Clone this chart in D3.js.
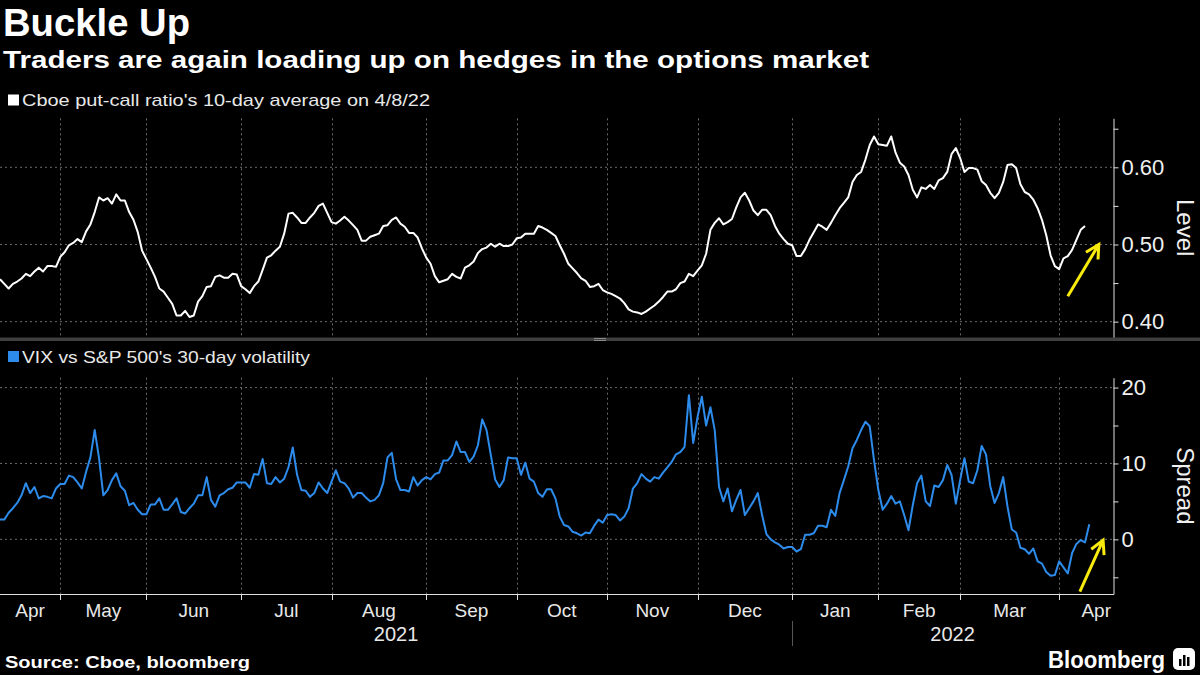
<!DOCTYPE html>
<html><head><meta charset="utf-8">
<script src="https://cdn.jsdelivr.net/npm/d3@7"></script>
<style>
html,body{margin:0;padding:0;background:#000;}
svg{display:block;}
text{font-family:"Liberation Sans",Arial,sans-serif;}
</style></head><body>
<svg id="chart" width="1200" height="675"></svg>
<script>
// ---- data (index = trading day, Apr 2021 .. Apr 8 2022) ----
const putCallRatio = [
0.455,0.449,0.443,0.449,0.452,0.456,0.462,0.459,0.465,0.470,
0.465,0.472,0.472,0.471,0.484,0.490,0.499,0.502,0.507,0.503,
0.517,0.526,0.542,0.561,0.557,0.560,0.553,0.565,0.557,0.557,
0.542,0.532,0.516,0.492,0.481,0.470,0.458,0.443,0.439,0.431,
0.423,0.408,0.408,0.414,0.406,0.408,0.426,0.433,0.445,0.446,
0.458,0.460,0.457,0.457,0.462,0.461,0.446,0.442,0.437,0.446,
0.452,0.467,0.483,0.486,0.492,0.497,0.514,0.540,0.541,0.535,
0.528,0.528,0.535,0.541,0.550,0.553,0.541,0.529,0.527,0.531,
0.536,0.531,0.525,0.519,0.505,0.505,0.510,0.512,0.514,0.524,
0.525,0.532,0.535,0.527,0.523,0.515,0.515,0.509,0.495,0.483,
0.475,0.459,0.451,0.453,0.455,0.462,0.458,0.456,0.470,0.473,
0.478,0.489,0.494,0.496,0.501,0.497,0.501,0.498,0.498,0.500,
0.508,0.509,0.514,0.514,0.514,0.524,0.522,0.519,0.515,0.511,
0.499,0.488,0.475,0.469,0.463,0.456,0.453,0.445,0.446,0.449,
0.441,0.438,0.436,0.433,0.430,0.424,0.416,0.413,0.412,0.410,
0.413,0.417,0.421,0.426,0.432,0.439,0.439,0.442,0.450,0.452,
0.462,0.459,0.466,0.473,0.488,0.519,0.528,0.534,0.526,0.529,
0.533,0.548,0.561,0.567,0.557,0.544,0.538,0.545,0.545,0.538,
0.524,0.514,0.507,0.501,0.499,0.485,0.485,0.494,0.506,0.516,
0.526,0.523,0.519,0.528,0.538,0.547,0.554,0.561,0.581,0.590,
0.594,0.610,0.629,0.640,0.630,0.629,0.628,0.640,0.619,0.606,
0.601,0.590,0.571,0.561,0.574,0.572,0.577,0.572,0.583,0.586,
0.594,0.617,0.625,0.612,0.594,0.599,0.599,0.597,0.582,0.577,
0.567,0.560,0.567,0.581,0.603,0.604,0.599,0.578,0.568,0.565,
0.558,0.547,0.532,0.512,0.486,0.472,0.468,0.482,0.485,0.493,
0.506,0.519,0.524];

const vixSpread = [
2.6,2.6,3.5,4.1,4.8,5.8,7.4,6.1,6.9,5.4,
5.7,5.6,5.4,6.7,7.3,7.3,8.4,8.2,7.5,6.7,
8.9,10.8,14.4,10.7,5.8,6.5,7.8,8.7,7.0,6.4,
4.5,4.8,3.9,3.3,3.3,4.6,4.6,5.4,3.9,3.9,
4.6,5.4,3.6,3.4,4.1,4.7,5.8,5.8,8.2,5.2,
4.3,5.8,6.1,6.6,6.8,7.5,7.5,7.5,6.8,8.6,
8.5,10.6,7.4,7.3,8.2,7.5,8.0,9.5,12.1,8.5,
6.5,6.4,5.6,6.1,7.5,6.7,6.1,7.6,9.1,7.6,
7.4,6.7,5.5,6.1,6.1,5.5,5.0,5.2,5.8,7.4,
10.8,11.4,7.9,6.5,6.5,6.3,8.2,7.1,7.8,8.2,
7.9,8.6,8.8,10.4,10.4,11.1,12.9,11.5,11.5,10.2,
10.9,12.4,15.8,14.4,11.1,7.9,6.9,7.8,10.8,10.7,
10.7,8.5,10.1,8.0,7.6,6.1,5.6,6.6,6.6,5.4,
3.0,1.9,1.7,1.0,0.8,0.5,0.9,0.8,1.8,2.6,
2.2,3.2,3.3,3.2,2.5,3.0,4.1,6.7,7.4,8.6,
8.0,7.6,8.2,8.0,8.8,9.5,10.2,11.2,11.5,12.2,
19.0,12.7,16.1,18.8,15.0,17.4,14.4,6.9,5.0,6.7,
3.7,5.2,6.5,3.2,4.1,5.0,6.1,3.2,0.7,0.0,
-0.4,-0.7,-1.2,-1.0,-1.0,-1.6,-1.3,0.6,0.6,0.8,
1.8,1.8,1.6,3.9,3.1,6.1,7.8,9.6,12.0,13.1,
14.4,15.5,14.9,10.4,6.5,3.9,4.7,5.7,4.7,5.0,
3.2,1.2,4.5,7.4,8.4,5.0,4.4,7.1,6.9,7.8,
9.8,8.5,4.7,7.8,10.7,7.6,7.4,9.1,12.3,11.2,
7.0,4.8,6.1,8.2,4.3,1.3,0.9,-1.1,-1.3,-1.9,
-1.2,-2.9,-3.2,-4.3,-4.8,-4.7,-2.9,-3.7,-4.5,-1.8,
-0.6,-0.1,-0.4,2.0];

const monthStarts = [14,34,56,77,99,120,141,162,184,204,223,246];
const monthLabels = ["Apr","May","Jun","Jul","Aug","Sep","Oct","Nov","Dec","Jan","Feb","Mar","Apr"];
const yearLabels = ["2021","2022"];
const yearBreak = 184;
const pcrTicks = [0.40,0.45,0.50,0.55,0.60,0.65];
const spreadTicks = [-5,0,5,10,15,20];
const topArrow = [[248.0,0.433],[255.2,0.500]];
const bottomArrow = [[250.8,-6.9],[256.2,-0.1]];

const title = "Buckle Up";
const subtitle = "Traders are again loading up on hedges in the options market";
const legendTop = "Cboe put-call ratio's 10-day average on 4/8/22";
const legendBottom = "VIX vs S&P 500's 30-day volatility";
const source = "Source: Cboe, bloomberg";

// ---- layout ----
const W = 1200, H = 675;
const plotRight = 1113;
const topPanel = {y0:118.3, y1:337.1};
const botPanel = {y0:377.7, y1:594};
const white = "#ffffff", blue = "#2d8ceb", yellow = "#f7ea0c", grid = "#6a6a6a";

const svg = d3.select("#chart");
svg.append("rect").attr("width",W).attr("height",H).attr("fill","#000");

const x = d3.scaleLinear().domain([0,258.5]).range([0,plotRight]);
const yTop = d3.scaleLinear().domain([0.38,0.6635]).range([topPanel.y1, topPanel.y0]);
const yBot = d3.scaleLinear().domain([-7.2,21.3]).range([botPanel.y1, botPanel.y0]);

// titles
svg.append("text").attr("x",3).attr("y",36).attr("fill",white)
  .attr("font-size",38).attr("font-weight","bold")
  .attr("textLength",187).attr("lengthAdjust","spacingAndGlyphs").text(title);
svg.append("text").attr("x",3).attr("y",68).attr("fill",white)
  .attr("font-size",24).attr("font-weight","bold")
  .attr("textLength",866).attr("lengthAdjust","spacingAndGlyphs").text(subtitle);

// legends
svg.append("rect").attr("x",8).attr("y",94.5).attr("width",11).attr("height",11).attr("fill",white);
svg.append("text").attr("x",22).attr("y",106).attr("fill","#e8e8e8")
  .attr("font-size",17).attr("textLength",408).attr("lengthAdjust","spacingAndGlyphs").text(legendTop);
svg.append("rect").attr("x",8).attr("y",351).attr("width",11).attr("height",11).attr("fill",blue);
svg.append("text").attr("x",22).attr("y",363).attr("fill","#e8e8e8")
  .attr("font-size",17).attr("textLength",288).attr("lengthAdjust","spacingAndGlyphs").text(legendBottom);

// gridlines
function gridFor(yScale, ticks, panel){
  const g = svg.append("g");
  g.selectAll("line.h").data(ticks).join("line")
    .attr("x1",0).attr("x2",plotRight)
    .attr("y1",d=>yScale(d)).attr("y2",d=>yScale(d))
    .attr("stroke",grid).attr("stroke-width",1).attr("stroke-dasharray","2,3");
  g.selectAll("line.v").data(monthStarts).join("line")
    .attr("x1",d=>Math.round(x(d))+0.5).attr("x2",d=>Math.round(x(d))+0.5)
    .attr("y1",panel.y0).attr("y2",panel.y1)
    .attr("stroke",grid).attr("stroke-width",1).attr("stroke-dasharray","2,3");
}
gridFor(yTop, pcrTicks.filter((d,i)=>i%2===0), topPanel);
gridFor(yBot, spreadTicks.filter((d,i)=>i%2===1), botPanel);

// separator between panels
svg.append("rect").attr("x",0).attr("y",337.5).attr("width",W).attr("height",3.5).attr("fill","#3f3f3f");
svg.append("line").attr("x1",594).attr("x2",606).attr("y1",338.5).attr("y2",338.5).attr("stroke","#8a8a8a");
svg.append("line").attr("x1",594).attr("x2",606).attr("y1",340.5).attr("y2",340.5).attr("stroke","#8a8a8a");

// lines
const lineTop = d3.line().x((d,i)=>x(i)).y(d=>yTop(d));
const lineBot = d3.line().x((d,i)=>x(i)).y(d=>yBot(d));
svg.append("path").datum(putCallRatio).attr("d",lineTop)
  .attr("fill","none").attr("stroke",white).attr("stroke-width",2).attr("stroke-linejoin","round");
svg.append("path").datum(vixSpread).attr("d",lineBot)
  .attr("fill","none").attr("stroke",blue).attr("stroke-width",2).attr("stroke-linejoin","round");

// right axes
function styleAxis(g){
  g.selectAll(".domain").attr("stroke","#e0e0e0");
  g.selectAll(".tick line").attr("stroke","#e0e0e0");
  g.selectAll(".tick text").attr("fill","#f0f0f0").attr("font-size",22)
    .attr("font-family",'"Liberation Sans",Arial,sans-serif');
}
const axTop = svg.append("g").attr("transform",`translate(${plotRight+0.5},0)`)
  .call(d3.axisRight(yTop).tickValues(pcrTicks).tickSize(5).tickSizeOuter(0).tickPadding(3)
    .tickFormat(d=>Math.round(d*100)%10===0 ? d3.format(".2f")(d) : ""));
styleAxis(axTop);
const axBot = svg.append("g").attr("transform",`translate(${plotRight+0.5},0)`)
  .call(d3.axisRight(yBot).tickValues(spreadTicks).tickSize(5).tickSizeOuter(0).tickPadding(3)
    .tickFormat(d=>d%10===0 ? d3.format("d")(d) : ""));
styleAxis(axBot);

// axis titles
svg.append("text").attr("transform",`translate(1177,${(topPanel.y0+topPanel.y1)/2}) rotate(90)`)
  .attr("text-anchor","middle").attr("fill","#f0f0f0").attr("font-size",24).text("Level");
svg.append("text").attr("transform",`translate(1177,${(botPanel.y0+botPanel.y1)/2}) rotate(90)`)
  .attr("text-anchor","middle").attr("fill","#f0f0f0").attr("font-size",24).text("Spread");

// x axis
const xAxisG = svg.append("g");
xAxisG.append("line").attr("x1",0).attr("x2",plotRight+1).attr("y1",botPanel.y1+0.5).attr("y2",botPanel.y1+0.5)
  .attr("stroke","#e0e0e0");
xAxisG.selectAll("line.tk").data(monthStarts).join("line")
  .attr("x1",d=>Math.round(x(d))+0.5).attr("x2",d=>Math.round(x(d))+0.5)
  .attr("y1",botPanel.y1).attr("y2",botPanel.y1+6).attr("stroke","#e0e0e0");
const bounds = [0, ...monthStarts, x.domain()[1]];
xAxisG.selectAll("text.m").data(monthLabels).join("text")
  .attr("x",(d,i)=> i===monthLabels.length-1 ? plotRight-2 : x((bounds[i]+bounds[i+1])/2))
  .attr("text-anchor",(d,i)=> i===monthLabels.length-1 ? "end" : "middle")
  .attr("y",617).attr("fill","#e8e8e8").attr("font-size",19).text(d=>d);
// years
const yearCenters = [(0 + x(yearBreak))/2, (x(yearBreak)+plotRight)/2];
xAxisG.selectAll("text.y").data(yearLabels).join("text")
  .attr("x",(d,i)=>yearCenters[i]).attr("text-anchor","middle")
  .attr("y",641).attr("fill","#e8e8e8").attr("font-size",20).text(d=>d);
xAxisG.append("line").attr("x1",Math.round(x(yearBreak))+0.5).attr("x2",Math.round(x(yearBreak))+0.5)
  .attr("y1",621).attr("y2",646).attr("stroke","#555");

// arrows
function arrow(pts, xs, ys){
  const [a,b] = pts;
  const x1=xs(a[0]), y1=ys(a[1]), x2=xs(b[0]), y2=ys(b[1]);
  const ang = Math.atan2(y1-y2, x1-x2);
  const L = 15, spread = 28*Math.PI/180;
  const w1 = [x2+L*Math.cos(ang+spread), y2+L*Math.sin(ang+spread)];
  const w2 = [x2+L*Math.cos(ang-spread), y2+L*Math.sin(ang-spread)];
  svg.append("path")
    .attr("d",`M${x1},${y1}L${x2},${y2}M${w1[0]},${w1[1]}L${x2},${y2}L${w2[0]},${w2[1]}`)
    .attr("fill","none").attr("stroke",yellow).attr("stroke-width",3).attr("stroke-linejoin","miter");
}
arrow(topArrow, x, yTop);
arrow(bottomArrow, x, yBot);

// footer
svg.append("text").attr("x",5).attr("y",668).attr("fill",white).attr("font-size",17).attr("font-weight","bold")
  .attr("textLength",245).attr("lengthAdjust","spacingAndGlyphs").text(source);
svg.append("text").attr("x",1048).attr("y",668).attr("fill",white).attr("font-size",23).attr("font-weight","bold")
  .attr("textLength",117).attr("lengthAdjust","spacingAndGlyphs").text("Bloomberg");
const logo = svg.append("g").attr("transform","translate(1173,648)");
logo.append("rect").attr("width",22).attr("height",22).attr("rx",5).attr("fill",white);
[[6,11,2.5,7],[10,7,2.5,11],[14,9,2.5,9]].forEach(r=>{
  logo.append("rect").attr("x",r[0]).attr("y",r[1]).attr("width",r[2]).attr("height",r[3]).attr("fill","#000");
});
</script>
</body></html>
